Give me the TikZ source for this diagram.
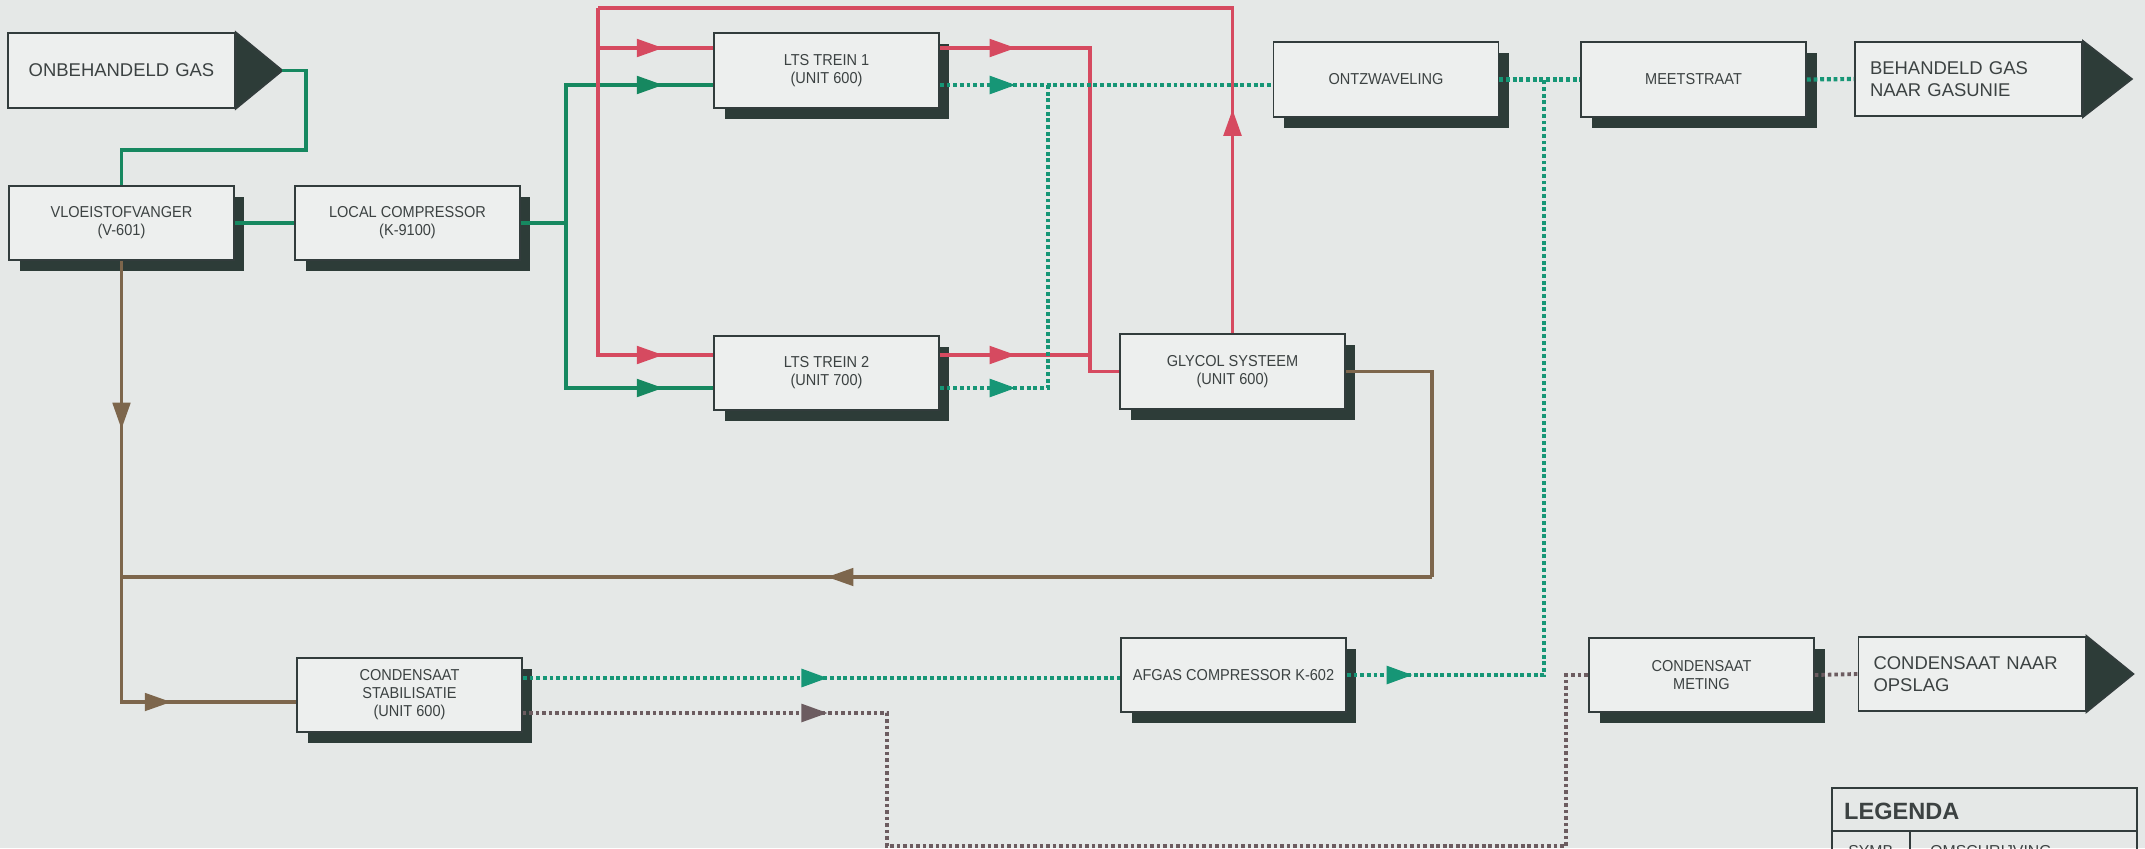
\documentclass[tikz,border=0pt]{standalone}
\usepackage{fontspec}
\setmainfont{Liberation Sans}
\newfontfamily\narrowsans[FakeStretch=0.92]{Liberation Sans}
\usetikzlibrary{arrows.meta,decorations.markings,shadows}

\definecolor{bgcol}{RGB}{229,232,231}
\definecolor{boxfill}{RGB}{237,239,238}
\definecolor{boxedge}{RGB}{50,60,60}
\definecolor{boxshadow}{RGB}{45,60,56}
\definecolor{textcol}{RGB}{60,66,66}
\definecolor{gascol}{RGB}{22,136,96}
\definecolor{gasdotcol}{RGB}{22,150,118}
\definecolor{glycolcol}{RGB}{214,74,96}
\definecolor{condcol}{RGB}{125,102,76}
\definecolor{conddotcol}{RGB}{108,92,96}

\tikzset{
  unitbox/.style={draw=boxedge, line width=1pt, fill=boxfill, text=textcol,
    minimum width=4.5cm, minimum height=1.49cm, inner sep=0pt, align=center,
    font=\narrowsans\fontsize{9}{10.2}\selectfont,
    general shadow={fill=boxshadow, shadow xshift=0.21cm, shadow yshift=-0.22cm}},
  endbox/.style={draw=boxedge, line width=1pt, fill=boxfill, text=textcol,
    minimum height=1.49cm, text width=3.94cm, inner xsep=0.3cm, inner ysep=0pt,
    font=\fontsize{10.5}{12.5}\selectfont},
  endtip/.style={fill=boxshadow, draw=boxedge, line width=1pt},
  midarrow/.style={postaction={decorate}, decoration={markings,
    mark=at position #1 with {\arrow{Triangle[length=15pt,width=10pt]}}}},
  gasline/.style={gascol, line width=2pt},
  gasdot/.style={gasdotcol, line width=2.4pt, dash pattern=on 2.2pt off 1.6pt},
  glyline/.style={glycolcol, line width=2pt},
  condline/.style={condcol, line width=1.8pt},
  conddot/.style={conddotcol, line width=2.2pt, dash pattern=on 2pt off 1.7pt},
}

\begin{document}
\begin{tikzpicture}[x=0.02cm, y=-0.02cm]

  % Sheet
  \useasboundingbox (0,0) rectangle (2145,848);
  \clip (0,0) rectangle (2145,848);
  \fill[bgcol] (0,0) rectangle (2145,848);

  % Feed and product terminals
  \node[endbox, align=center] (onbeh) at (121.5,70.5) {ONBEHANDELD GAS};
  \filldraw[endtip] (onbeh.north east) -- ([xshift=0.93cm]onbeh.east) -- (onbeh.south east) -- cycle;
  \node[endbox, align=left] (beh) at (1968.5,79) {BEHANDELD GAS\\NAAR GASUNIE};
  \filldraw[endtip] (beh.north east) -- ([xshift=0.98cm]beh.east) -- (beh.south east) -- cycle;
  \node[endbox, align=left] (opslag) at (1972,674) {CONDENSAAT NAAR\\OPSLAG};
  \filldraw[endtip] (opslag.north east) -- ([xshift=0.94cm]opslag.east) -- (opslag.south east) -- cycle;

  % Process units
  \node[unitbox] (vloei) at (121.5,223) {VLOEISTOFVANGER\\(V-601)};
  \node[unitbox] (comp) at (407.5,223) {LOCAL COMPRESSOR\\(K-9100)};
  \node[unitbox] (lts1) at (826.5,70.5) {LTS TREIN 1\\(UNIT 600)};
  \node[unitbox] (lts2) at (826.5,373) {LTS TREIN 2\\(UNIT 700)};
  \node[unitbox] (glycol) at (1232.5,371.5) {GLYCOL SYSTEEM\\(UNIT 600)};
  \node[unitbox] (ontz) at (1386,79.5) {ONTZWAVELING};
  \node[unitbox] (meet) at (1693.5,79.5) {MEETSTRAAT};
  \node[unitbox] (stab) at (409.5,695) {CONDENSAAT\\STABILISATIE\\(UNIT 600)};
  \node[unitbox] (afgas) at (1233.5,675) {AFGAS COMPRESSOR K-602};
  \node[unitbox] (meting) at (1701.5,675) {CONDENSAAT\\METING};

  % Bends and junctions
  \coordinate (feedbend) at (306,150);
  \coordinate (gastrunk) at (566,223);
  \coordinate (glytop) at (598,8);
  \coordinate (glyret) at (1090,371.5);
  \coordinate (lts2out) at (1048,85);
  \coordinate (sweetjoin) at (1544,79.5);
  \coordinate (condjoin) at (121.5,577);
  \coordinate (condret) at (1432,577);
  \coordinate (dotlow1) at (887,846);
  \coordinate (dotlow2) at (1566,846);
  \coordinate (lts1gas) at ([yshift=-0.29cm]lts1.east);
  \coordinate (stabgas) at ([yshift=0.34cm]stab.east);

  % Untreated gas
  \draw[gasline] ([xshift=0.93cm]onbeh.east) -| (feedbend) -| (vloei.north);
  \draw[gasline] (vloei.east) -- (comp.west);
  \draw[gasline] (comp.east) -- (gastrunk);
  \draw[gasline, midarrow=-1cm] (gastrunk) |- ([yshift=-0.29cm]lts1.west);
  \draw[gasline, midarrow=-1cm] (gastrunk) |- ([yshift=-0.3cm]lts2.west);

  % Glycol loop
  \draw[glyline, midarrow=4.48cm] (glycol.north) |- (glytop);
  \draw[glyline, midarrow=-1cm] (glytop) |- ([yshift=0.45cm]lts1.west);
  \draw[glyline, midarrow=-1cm] (glytop) |- ([yshift=0.36cm]lts2.west);
  \draw[glyline, midarrow=1.52cm] ([yshift=0.45cm]lts1.east) -| (glyret) -- (glycol.west);
  \draw[glyline, midarrow=1.52cm] ([yshift=0.36cm]lts2.east) -| (glyret);

  % Treated gas
  \draw[gasdot, midarrow=1.52cm] (lts1gas) -- (lts1gas -| ontz.west);
  \draw[gasdot, midarrow=1.52cm] ([yshift=-0.3cm]lts2.east) -| (lts2out);
  \draw[gasdot] (ontz.east) -- (meet.west);
  \draw[gasdot] (meet.east) -- (beh.west);
  \draw[gasdot, midarrow=6.1cm] (stabgas) -- (stabgas -| afgas.west);
  \draw[gasdot, midarrow=1.32cm] (afgas.east) -| (sweetjoin);

  % Condensate
  \draw[condline, midarrow=3.36cm] (vloei.south) -- (condjoin);
  \draw[condline, midarrow=-2.5cm] (condjoin) |- ([yshift=-0.14cm]stab.west);
  \draw[condline] (glycol.east) -| (condret);
  \draw[condline, midarrow=12.1cm] (condret) -- (condjoin);
  \draw[conddot, midarrow=6.1cm] ([yshift=-0.36cm]stab.east) -| (dotlow1) -- (dotlow2) |- (meting.west);
  \draw[conddot] (meting.east) -- (opslag.west);

  % Legend
  \draw[boxedge, line width=1pt] (1832,788) rectangle (2137,880);
  \draw[boxedge, line width=1pt] (1832,831) -- (2137,831);
  \draw[boxedge, line width=1pt] (1910,831) -- (1910,880);
  \node[anchor=west, text=textcol, font=\bfseries\fontsize{13.4}{15}\selectfont] (legtitle) at (1838,811) {LEGENDA};
  \node[anchor=base west, inner sep=0pt, text=textcol, font=\fontsize{9}{10}\selectfont] (legsymb) at (1848,856) {SYMB.};
  \node[anchor=base west, inner sep=0pt, text=textcol, font=\fontsize{9}{10}\selectfont] (legdesc) at (1930,856) {OMSCHRIJVING};

\end{tikzpicture}
\end{document}
